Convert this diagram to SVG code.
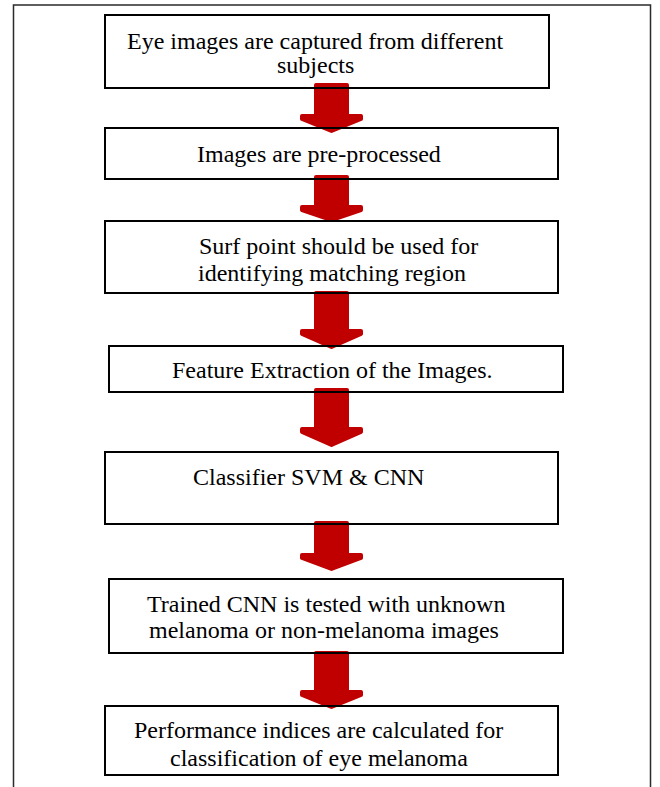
<svg xmlns="http://www.w3.org/2000/svg" width="660" height="787" viewBox="0 0 660 787">
<style>
.box{fill:none;stroke:#000;stroke-width:2}
.arrow{fill:#C00000;stroke:#C00000;stroke-width:4;stroke-linejoin:round}
.frame{fill:none;stroke:#2a2a2a;stroke-width:1.5}
text{font-family:"Liberation Serif","Times New Roman",serif;font-size:24px;fill:#000}
</style>
<rect width="660" height="787" fill="#fff"/>
<path class="frame" d="M13.5,787 V5 H650.5 V787"/>
<g id="connectors">
<path class="arrow" d="M316,85 L347,85 L347,116 L361,116 L361,119 L331.5,131 L302,119 L302,116 L316,116 Z"/>
<path class="arrow" d="M316,177 L347,177 L347,207 L361,207 L361,210 L331.5,220 L302,210 L302,207 L316,207 Z"/>
<path class="arrow" d="M316,293 L347,293 L347,331 L361,331 L361,334 L331.5,347 L302,334 L302,331 L316,331 Z"/>
<path class="arrow" d="M316,390 L347,390 L347,429 L361,429 L361,432 L331.5,445 L302,432 L302,429 L316,429 Z"/>
<path class="arrow" d="M316,523 L347,523 L347,555 L361,555 L361,558 L331.5,569 L302,558 L302,555 L316,555 Z"/>
<path class="arrow" d="M316,653 L347,653 L347,692 L361,692 L361,695 L331.5,707 L302,695 L302,692 L316,692 Z"/>
</g>
<g id="node1">
<rect class="box" x="105" y="15" width="444" height="73"/>
<text x="127" y="49">Eye images are captured from different</text>
<text x="277" y="73">subjects</text>
</g>
<g id="node2">
<rect class="box" x="105" y="128" width="453" height="51"/>
<text x="197" y="161.5">Images are pre-processed</text>
</g>
<g id="node3">
<rect class="box" x="105" y="221" width="453" height="72"/>
<text x="199" y="254">Surf point should be used for</text>
<text x="198" y="281">identifying matching region</text>
</g>
<g id="node4">
<rect class="box" x="109" y="346" width="454" height="46"/>
<text x="172" y="378">Feature Extraction of the Images.</text>
</g>
<g id="node5">
<rect class="box" x="105" y="452" width="453" height="72"/>
<text x="193" y="485">Classifier SVM &amp; CNN</text>
</g>
<g id="node6">
<rect class="box" x="109" y="579" width="454" height="74"/>
<text x="147" y="611.5">Trained CNN is tested with unknown</text>
<text x="149" y="638">melanoma or non-melanoma images</text>
</g>
<g id="node7">
<rect class="box" x="105" y="706" width="453" height="69"/>
<text x="134" y="738">Performance indices are calculated for</text>
<text x="170" y="765.5">classification of eye melanoma</text>
</g>
</svg>
